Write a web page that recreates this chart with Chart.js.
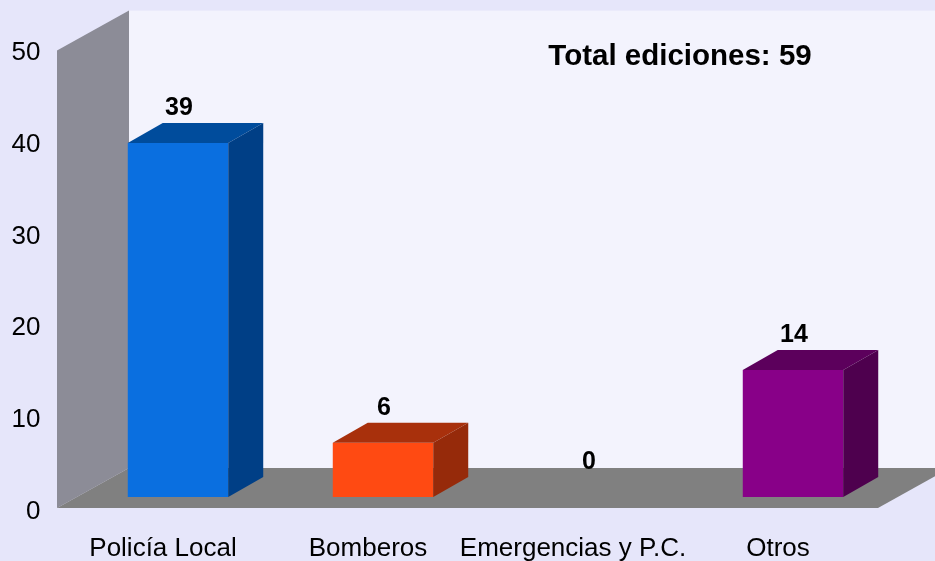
<!DOCTYPE html>
<html><head><meta charset="utf-8">
<script src="https://cdn.jsdelivr.net/npm/chart.js@4.4.1/dist/chart.umd.min.js"></script>
<style>html,body{margin:0;padding:0;background:#E6E6FA;}#wrap{width:935px;height:561px;}</style>
</head><body><div id="wrap"><canvas id="c" width="935" height="561"></canvas></div>
<script>
// ---- data ----
const categories = ['Policía Local', 'Bomberos', 'Emergencias y P.C.', 'Otros'];
const values = [39, 6, 0, 14];
const yTicks = [0, 10, 20, 30, 40, 50];
const totalLabel = 'Total ediciones: ';

// ---- styles ----
const frontColors = ['#0A6FE0', '#FF4A12', '#2E8B57', '#880088'];
const topColors   = ['#004C9C', '#A8300C', '#1E5E3A', '#5C005C'];
const sideColors  = ['#003F86', '#962A0A', '#184E30', '#4E004E'];
const FONT = "'Liberation Sans', Arial, sans-serif";
const DEPTH_X = 72, DEPTH_Y = -40;     // wall/floor depth
const BAR_DX = 35, BAR_DY = -20;       // bar depth
const PX_PER_UNIT = 9.15, BAR_BASE_SHIFT = 13, AREA_H = 463;

const threeD = {
  id: 'threeD',
  beforeDraw(chart) {
    const ctx = chart.ctx, a = chart.chartArea, y = chart.scales.y;
    const fx0 = a.left - 18.5, fx1 = a.right - 17.5;
    const fy0 = y.getPixelForValue(0) - 2, fyT = y.getPixelForValue(50);
    ctx.save();
    ctx.fillStyle = '#E6E6FA';
    ctx.fillRect(0, 0, chart.width, chart.height);
    // back wall
    ctx.fillStyle = '#F3F3FD';
    ctx.fillRect(fx0 + DEPTH_X, fyT + DEPTH_Y, chart.width - (fx0 + DEPTH_X), fy0 - fyT);
    // left wall
    ctx.fillStyle = '#8C8C97';
    ctx.beginPath();
    ctx.moveTo(fx0, fyT); ctx.lineTo(fx0 + DEPTH_X, fyT + DEPTH_Y);
    ctx.lineTo(fx0 + DEPTH_X, fy0 + DEPTH_Y); ctx.lineTo(fx0, fy0);
    ctx.closePath(); ctx.fill();
    // floor
    ctx.fillStyle = '#808080';
    ctx.beginPath();
    ctx.moveTo(fx0, fy0); ctx.lineTo(fx1, fy0);
    ctx.lineTo(fx1 + DEPTH_X, fy0 + DEPTH_Y); ctx.lineTo(fx0 + DEPTH_X, fy0 + DEPTH_Y);
    ctx.closePath(); ctx.fill();
    ctx.restore();
  },
  afterDatasetsDraw(chart) {
    const ctx = chart.ctx;
    const meta = chart.getDatasetMeta(0);
    ctx.save();
    meta.data.forEach((bar, i) => {
      const p = bar.getProps(['x', 'y', 'base', 'width'], true);
      const l = p.x - p.width / 2, r = p.x + p.width / 2;
      if (values[i] > 0) {
        ctx.fillStyle = topColors[i];
        ctx.beginPath();
        ctx.moveTo(l, p.y); ctx.lineTo(l + BAR_DX, p.y + BAR_DY);
        ctx.lineTo(r + BAR_DX, p.y + BAR_DY); ctx.lineTo(r, p.y);
        ctx.closePath(); ctx.fill();
        ctx.fillStyle = sideColors[i];
        ctx.beginPath();
        ctx.moveTo(r, p.y); ctx.lineTo(r + BAR_DX, p.y + BAR_DY);
        ctx.lineTo(r + BAR_DX, p.base + BAR_DY); ctx.lineTo(r, p.base);
        ctx.closePath(); ctx.fill();
      }
      ctx.fillStyle = '#000';
      ctx.font = 'bold 25px ' + FONT;
      ctx.textAlign = 'center';
      ctx.textBaseline = 'middle';
      ctx.fillText(String(values[i]), p.x + 1, p.y - 35);
    });
    const total = values.reduce((s, v) => s + v, 0);
    ctx.font = 'bold 29.5px ' + FONT;
    ctx.textAlign = 'center';
    ctx.textBaseline = 'middle';
    ctx.fillText(totalLabel + total, 680, 57);
    ctx.restore();
  }
};

const y2min = -BAR_BASE_SHIFT / PX_PER_UNIT;
const y2max = y2min + AREA_H / PX_PER_UNIT;

new Chart(document.getElementById('c'), {
  type: 'bar',
  data: {
    labels: categories,
    datasets: [{
      data: values,
      yAxisID: 'y2',
      backgroundColor: frontColors,
      borderWidth: 0,
      barPercentage: 0.49,
      categoryPercentage: 1.0
    }]
  },
  options: {
    responsive: false,
    animation: false,
    layout: { padding: { top: 47, right: 39.5, bottom: 0, left: 0 } },
    plugins: { legend: { display: false }, tooltip: { enabled: false } },
    scales: {
      x: {
        grid: { display: false, drawTicks: false },
        border: { display: false },
        ticks: { font: { family: FONT, size: 26 }, color: '#000', padding: 23, labelOffset: -15, maxRotation: 0, autoSkip: false },
        afterFit(s) { s.height = 51; }
      },
      y: {
        min: 0, max: 50,
        afterBuildTicks(s) { s.ticks = yTicks.map(v => ({ value: v })); },
        grid: { display: false, drawTicks: false },
        border: { display: false },
        ticks: { font: { family: FONT, size: 26 }, color: '#000', padding: 35, labelOffset: 2 },
        afterFit(s) { s.width = 75.5; }
      },
      y2: { display: false, min: y2min, max: y2max }
    }
  },
  plugins: [threeD]
});
</script>
</body></html>
